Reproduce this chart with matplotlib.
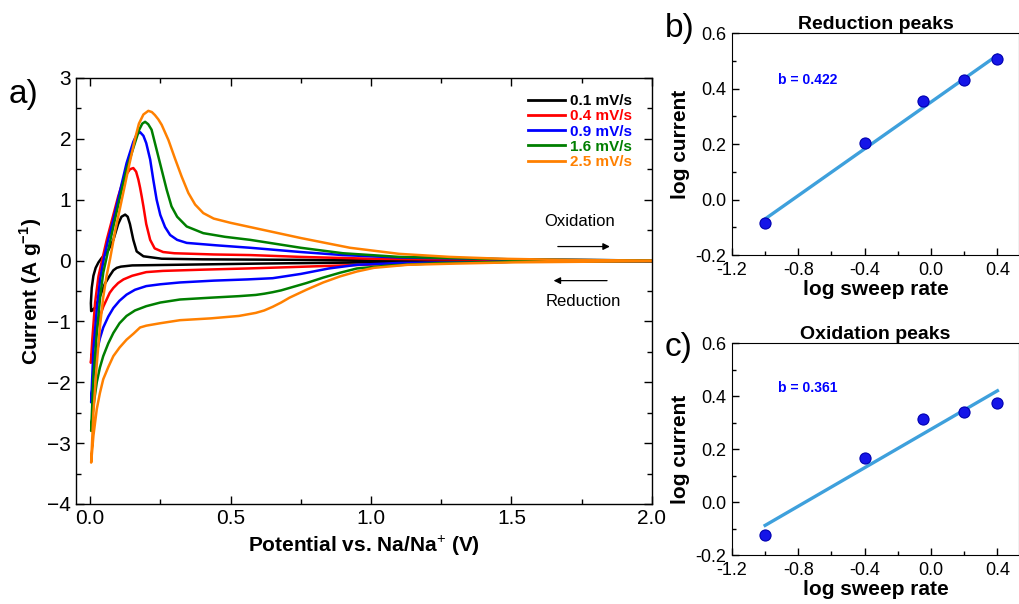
import numpy as np
import matplotlib
matplotlib.use("Agg")
import matplotlib.pyplot as plt
from matplotlib.ticker import MultipleLocator

plt.rcParams['font.family'] = ['Liberation Sans', 'DejaVu Sans']
plt.rcParams['mathtext.fontset'] = 'custom'
plt.rcParams['mathtext.rm'] = 'Liberation Sans'
plt.rcParams['mathtext.bf'] = 'Liberation Sans:bold'

# --- CV data: reduction sweep 2.0 -> 0 V, then oxidation sweep back ---
v_01 = [2.0, 1.5, 1.0, 0.6, 0.3, 0.15, 0.11, 0.095, 0.083, 0.07, 0.053, 0.036, 0.018, 0.008, 0.004,
        0.003, 0.006, 0.012, 0.02, 0.03, 0.041, 0.053, 0.065, 0.083, 0.1, 0.112, 0.125,
        0.134, 0.142, 0.154, 0.166, 0.19, 0.255, 0.4, 0.8, 1.5, 2.0]
i_01 = [-0.01, -0.02, -0.03, -0.05, -0.07, -0.08, -0.10, -0.12, -0.16, -0.25, -0.38, -0.58, -0.77, -0.82, -0.83,
        -0.70, -0.45, -0.25, -0.12, -0.03, 0.04, 0.10, 0.17, 0.34, 0.60, 0.72, 0.755,
        0.72, 0.60, 0.34, 0.15, 0.07, 0.03, 0.02, 0.01, 0.0, 0.0]

v_04 = [2.0, 1.5, 1.2, 0.9, 0.7, 0.56, 0.4, 0.26, 0.2, 0.15, 0.119, 0.1, 0.083, 0.07, 0.059,
        0.047, 0.036, 0.026, 0.018, 0.01, 0.003,
        0.008, 0.018, 0.03, 0.045, 0.06, 0.08, 0.1, 0.115, 0.13, 0.142, 0.154, 0.164,
        0.172, 0.178, 0.184, 0.19, 0.2, 0.214, 0.23, 0.26, 0.3, 0.44, 0.57, 0.75, 1.0,
        1.2, 1.6, 2.0]
i_04 = [-0.01, -0.02, -0.04, -0.08, -0.11, -0.13, -0.15, -0.17, -0.19, -0.25, -0.31, -0.37, -0.45, -0.53, -0.64,
        -0.76, -0.91, -1.07, -1.24, -1.45, -1.68,
        -1.30, -0.69, -0.26, 0.05, 0.35, 0.70, 1.05, 1.27, 1.42, 1.50, 1.52, 1.46,
        1.33, 1.20, 1.05, 0.89, 0.60, 0.34, 0.20, 0.14, 0.12, 0.10, 0.09, 0.06, 0.03,
        0.02, 0.01, 0.0]

v_09 = [2.0, 1.5, 1.1, 0.95, 0.85, 0.75, 0.65, 0.56, 0.44, 0.32, 0.25, 0.2, 0.16, 0.13, 0.105,
        0.083, 0.065, 0.047, 0.035, 0.024, 0.012, 0.004,
        0.012, 0.024, 0.036, 0.05, 0.065, 0.083, 0.107, 0.13, 0.154, 0.166, 0.178, 0.19,
        0.2, 0.214, 0.225, 0.237, 0.25, 0.267, 0.285, 0.31, 0.344, 0.45, 0.57, 0.75, 0.9,
        1.1, 1.5, 2.0]
i_09 = [-0.01, -0.02, -0.04, -0.07, -0.13, -0.22, -0.29, -0.31, -0.33, -0.36, -0.39, -0.42, -0.48, -0.56, -0.66,
        -0.78, -0.92, -1.10, -1.28, -1.51, -1.90, -2.33,
        -1.46, -0.80, -0.30, 0.05, 0.35, 0.67, 1.15, 1.60, 1.95, 2.07, 2.11, 2.05,
        1.93, 1.66, 1.33, 1.00, 0.75, 0.55, 0.42, 0.34, 0.29, 0.25, 0.21, 0.14, 0.09,
        0.05, 0.02, 0.0]

v_16 = [2.0, 1.5, 1.25, 1.07, 0.95, 0.89, 0.83, 0.77, 0.71, 0.68, 0.65, 0.62, 0.59, 0.53, 0.43,
        0.32, 0.25, 0.2, 0.16, 0.13, 0.105, 0.083, 0.065, 0.047, 0.035, 0.024, 0.012, 0.004,
        0.012, 0.024, 0.036, 0.047, 0.059, 0.083, 0.107, 0.13, 0.154, 0.175, 0.186, 0.196,
        0.207, 0.219, 0.237, 0.255, 0.273, 0.29, 0.31, 0.344, 0.403, 0.48, 0.57, 0.75, 0.9,
        1.1, 1.5, 2.0]
i_16 = [-0.01, -0.02, -0.04, -0.08, -0.13, -0.20, -0.28, -0.37, -0.45, -0.49, -0.52, -0.545, -0.565, -0.585, -0.61,
        -0.64, -0.69, -0.75, -0.82, -0.91, -1.03, -1.19, -1.36, -1.57, -1.76, -2.0, -2.39, -2.80,
        -1.90, -1.20, -0.60, -0.20, 0.05, 0.56, 1.05, 1.50, 1.85, 2.15, 2.25, 2.28,
        2.24, 2.15, 1.82, 1.49, 1.16, 0.89, 0.72, 0.56, 0.45, 0.39, 0.34, 0.21, 0.12,
        0.06, 0.02, 0.0]

v_25 = [2.0, 1.5, 1.3, 1.13, 1.01, 0.95, 0.89, 0.83, 0.77, 0.71, 0.68, 0.65, 0.62, 0.59, 0.53,
        0.43, 0.32, 0.25, 0.2, 0.178, 0.155, 0.13, 0.105, 0.083, 0.065, 0.047, 0.035, 0.024,
        0.012, 0.004,
        0.012, 0.024, 0.036, 0.047, 0.059, 0.071, 0.09, 0.113, 0.136, 0.16, 0.174, 0.19,
        0.2075, 0.22, 0.231, 0.243, 0.255, 0.279, 0.302, 0.326, 0.35, 0.374, 0.403, 0.44,
        0.5, 0.6, 0.75, 0.925, 1.1, 1.28, 1.46, 1.7, 2.0]
i_25 = [-0.01, -0.03, -0.05, -0.07, -0.12, -0.18, -0.26, -0.36, -0.48, -0.61, -0.69, -0.76, -0.82, -0.86, -0.91,
        -0.95, -0.98, -1.03, -1.07, -1.10, -1.20, -1.30, -1.43, -1.57, -1.75, -1.95, -2.18, -2.44,
        -2.88, -3.32,
        -2.50, -1.70, -1.05, -0.60, -0.25, 0.02, 0.50, 1.00, 1.50, 2.00, 2.25, 2.40,
        2.46, 2.44, 2.39, 2.32, 2.23, 1.98, 1.68, 1.38, 1.11, 0.92, 0.78, 0.69,
        0.62, 0.52, 0.37, 0.21, 0.11, 0.06, 0.03, 0.01, 0.0]

cv_labels = ["0.1 mV/s", "0.4 mV/s", "0.9 mV/s", "1.6 mV/s", "2.5 mV/s"]
cv_colors = ["#000000", "#ff0000", "#0000ff", "#007f00", "#ff8000"]

# --- b-value analysis ---
log_rate = [-1.0, -0.4, -0.05, 0.2, 0.4]
log_i_red = [-0.085, 0.203, 0.355, 0.43, 0.505]
log_i_ox = [-0.125, 0.168, 0.312, 0.34, 0.372]
fit_x = [-1.0, 0.4]
fit_red = [-0.07, 0.52]
fit_ox = [-0.088, 0.42]

fig = plt.figure(figsize=(10.2, 6.04), dpi=100)

# Panel a: CV curves
ax = fig.add_axes([0.0745, 0.1656, 0.5647, 0.7053])
curves = [(v_01, i_01), (v_04, i_04), (v_09, i_09), (v_16, i_16), (v_25, i_25)]
for (v, i), c, lab in zip(curves, cv_colors, cv_labels):
    ax.plot(v, i, color=c, lw=1.8, label=lab, solid_joinstyle='round')
ax.set_xlim(-0.05, 2.0)
ax.set_ylim(-4, 3)
ax.xaxis.set_major_locator(MultipleLocator(0.5))
ax.xaxis.set_minor_locator(MultipleLocator(0.25))
ax.yaxis.set_major_locator(MultipleLocator(1))
ax.yaxis.set_minor_locator(MultipleLocator(0.5))
ax.xaxis.set_major_formatter(plt.FormatStrFormatter('%.1f'))
ax.tick_params(which='both', direction='in', top=True, right=True, labelsize=15, width=1)
ax.tick_params(which='major', length=6)
ax.tick_params(which='minor', length=3.5)
for s in ax.spines.values():
    s.set_linewidth(1)
ax.set_xlabel("Potential vs. Na/Na$^{+}$ (V)", fontsize=15, fontweight='bold', labelpad=4)
ax.set_ylabel("Current (A g$^{\\mathbf{-1}}$)", fontsize=15, fontweight='bold', labelpad=2)
leg = ax.legend(loc='upper left', bbox_to_anchor=(0.785, 0.962), frameon=False,
                handlelength=2.4, handletextpad=0.35, labelspacing=0.08,
                borderpad=0, borderaxespad=0, labelcolor='linecolor',
                prop={'weight': 'bold', 'size': 11})
for line in leg.get_lines():
    line.set_linewidth(2)

ax.text(1.744, 0.64, "Oxidation", fontsize=12, ha='center', va='center')
ax.annotate("", xy=(1.86, 0.23), xytext=(1.655, 0.23),
            arrowprops=dict(arrowstyle='-|>', color='black', lw=0.9, mutation_scale=10))
ax.text(1.754, -0.67, "Reduction", fontsize=12, ha='center', va='center')
ax.annotate("", xy=(1.64, -0.33), xytext=(1.85, -0.33),
            arrowprops=dict(arrowstyle='-|>', color='black', lw=0.9, mutation_scale=10))

fig.text(0.008, 0.843, "a)", fontsize=24, ha='left', va='center')


def side_panel(rect, y, fit_y, title, btext, xpad):
    a = fig.add_axes(rect)
    a.plot(fit_x, fit_y, color='#3ea0dc', lw=2.4, zorder=2)
    a.plot(log_rate, y, 'o', ms=8, mfc='#1515e8', mec='#0000b0', mew=0.8, zorder=3)
    a.set_xlim(-1.2, 0.53)
    a.set_ylim(-0.2, 0.6)
    a.xaxis.set_major_locator(MultipleLocator(0.4))
    a.xaxis.set_minor_locator(MultipleLocator(0.2))
    a.yaxis.set_major_locator(MultipleLocator(0.2))
    a.yaxis.set_minor_locator(MultipleLocator(0.1))
    a.xaxis.set_major_formatter(plt.FormatStrFormatter('%.1f'))
    a.yaxis.set_major_formatter(plt.FormatStrFormatter('%.1f'))
    a.tick_params(which='both', direction='in', labelsize=13, width=1)
    a.tick_params(which='major', length=5)
    a.tick_params(which='minor', length=3)
    a.tick_params(axis='x', pad=5)
    a.tick_params(axis='y', pad=4)
    a.set_xlabel("log sweep rate", fontsize=15, fontweight='bold', labelpad=xpad)
    a.set_ylabel("log current", fontsize=15, fontweight='bold', labelpad=4)
    a.set_title(title, fontsize=14, fontweight='bold', pad=3)
    a.text(-0.92, 0.43, btext, color='#0000ff', fontsize=10, fontweight='bold',
           ha='left', va='center')
    return a


side_panel([0.7176, 0.5778, 0.2814, 0.3675], log_i_red, fit_red, "Reduction peaks", "b = 0.422", 1)
side_panel([0.7176, 0.081, 0.2814, 0.351], log_i_ox, fit_ox, "Oxidation peaks", "b = 0.361", 0.5)
fig.text(0.652, 0.953, "b)", fontsize=24, ha='left', va='center')
fig.text(0.652, 0.425, "c)", fontsize=24, ha='left', va='center')

fig.savefig("out.png", dpi=100)
